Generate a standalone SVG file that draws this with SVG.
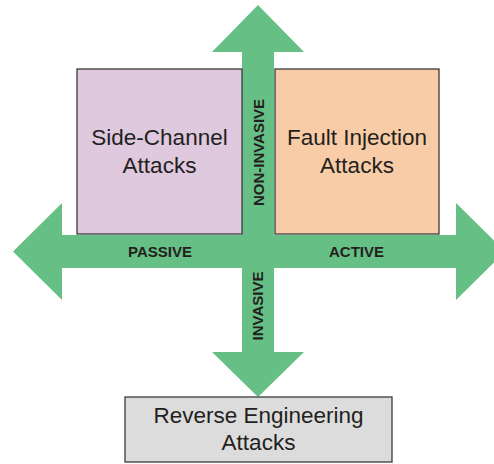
<svg xmlns="http://www.w3.org/2000/svg" width="494" height="464" viewBox="0 0 494 464">
<style>
.box{stroke:#3a3a3a;stroke-width:1.3}
.lbl{font-family:"Liberation Sans",Arial,sans-serif;font-size:22.5px;fill:#231f20;text-anchor:middle}
.ax{font-family:"Liberation Sans",Arial,sans-serif;font-size:15px;font-weight:bold;fill:#231f20;text-anchor:middle}
</style>
<rect width="494" height="464" fill="#ffffff"/>
<g id="connectors">
<polygon fill="#66bf84" points="258,5 304,52 274,52 274,235 456,235 456,203 505,251.5 456,300 456,268 274,268 274,352 304,352 258,397 212,352 242,352 242,268 62,268 62,300 13,251.5 62,203 62,235 242,235 242,52 212,52"/>
<text class="ax" x="160" y="256.5">PASSIVE</text>
<text class="ax" x="356.5" y="256.5">ACTIVE</text>
<text class="ax" transform="translate(264,152.5) rotate(-90)">NON-INVASIVE</text>
<text class="ax" transform="translate(263,306) rotate(-90)">INVASIVE</text>
</g>
<g id="side-channel">
<rect class="box" x="77" y="69" width="165" height="165" fill="#dfc9df"/>
<text class="lbl" x="159.5" y="145">Side-Channel</text>
<text class="lbl" x="159.5" y="173">Attacks</text>
</g>
<g id="fault-injection">
<rect class="box" x="275" y="69" width="164" height="165" fill="#f8cca6"/>
<text class="lbl" x="357" y="145">Fault Injection</text>
<text class="lbl" x="357" y="173">Attacks</text>
</g>
<g id="reverse-engineering">
<rect class="box" x="125" y="397" width="267" height="65" fill="#dcdcdc"/>
<text class="lbl" x="258.5" y="423">Reverse Engineering</text>
<text class="lbl" x="258.5" y="450">Attacks</text>
</g>
</svg>
